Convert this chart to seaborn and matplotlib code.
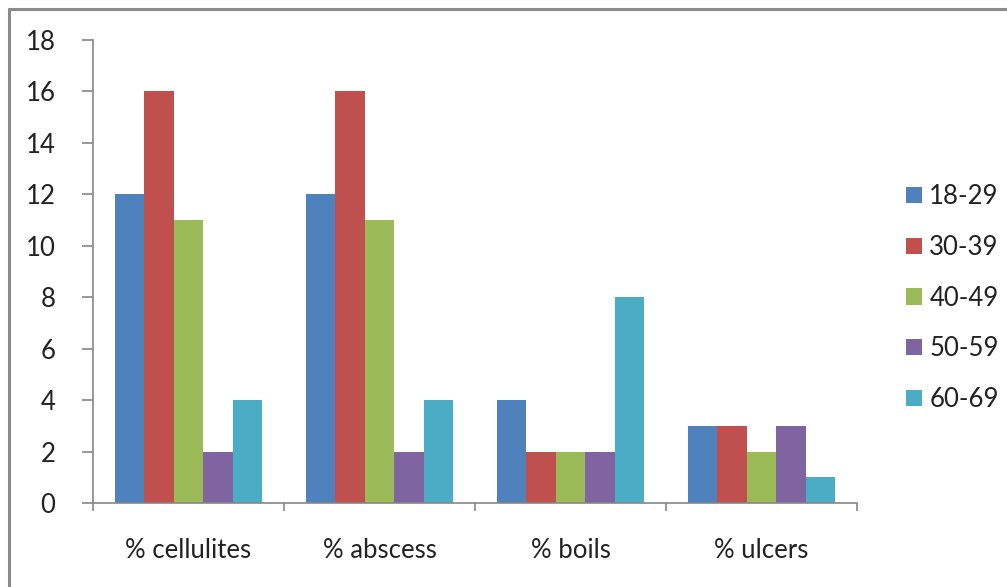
import matplotlib
matplotlib.use("Agg")
import matplotlib.pyplot as plt
from matplotlib.lines import Line2D
from matplotlib.patches import Patch
import seaborn as sns
import pandas as pd

# Infection types by age group (%)
categories = ["% cellulites", "% abscess", "% boils", "% ulcers"]
age_groups = ["18-29", "30-39", "40-49", "50-59", "60-69"]
values_18_29 = [12, 12, 4, 3]
values_30_39 = [16, 16, 2, 3]
values_40_49 = [11, 11, 2, 2]
values_50_59 = [2, 2, 2, 3]
values_60_69 = [4, 4, 8, 1]
colors = ["#4F81BD", "#C0504D", "#9BBB59", "#8064A2", "#4BACC6"]

series = [values_18_29, values_30_39, values_40_49, values_50_59, values_60_69]
rows = []
for grp, vals in zip(age_groups, series):
    for cat, v in zip(categories, vals):
        rows.append({"category": cat, "age": grp, "value": v})
df = pd.DataFrame(rows)

sns.set_theme(style="white")
plt.rcParams["font.family"] = ["Lato", "DejaVu Sans"]

fig = plt.figure(figsize=(10.07, 5.87), dpi=100)
ax = fig.add_axes([93 / 1007, 1 - 503 / 587, (857 - 93) / 1007, (503 - 40) / 587])

sns.barplot(data=df, x="category", y="value", hue="age", order=categories,
            hue_order=age_groups, palette=colors, width=0.772, saturation=1,
            linewidth=0, ax=ax, legend=False)

axis_color = "#868686"
ax.set_ylim(0, 18)
ax.set_xlim(-0.5, len(categories) - 0.5)
ax.set_yticks(range(0, 19, 2))
ax.set_xlabel("")
ax.set_ylabel("")
for side in ["top", "right"]:
    ax.spines[side].set_visible(False)
for side in ["left", "bottom"]:
    ax.spines[side].set_color(axis_color)
    ax.spines[side].set_linewidth(1.2)

ax.tick_params(axis="y", which="major", direction="out", length=8, width=1.2,
               color=axis_color, pad=19, labelsize=18.5, labelcolor="#222222", left=True)
ax.tick_params(axis="x", which="major", length=0, pad=25, labelsize=18.5,
               labelcolor="#222222")
ax.set_xticks([i + 0.5 for i in range(-1, len(categories))], minor=True)
ax.tick_params(axis="x", which="minor", direction="out", length=6, width=1.2,
               color=axis_color, bottom=True)

handles = [Patch(facecolor=c, edgecolor="none", label=g) for c, g in zip(colors, age_groups)]
fig.legend(handles=handles, loc="center left", bbox_to_anchor=(883 / 1007, 1 - 298 / 587),
           frameon=False, fontsize=18.5, labelspacing=1.0, handlelength=0.6,
           handleheight=0.6, handletextpad=0.3, labelcolor="#222222")

# Outer chart border (top and left edges visible)
border = dict(color="#8a8a8a", linewidth=2.2, transform=fig.transFigure)
fig.add_artist(Line2D([9 / 1007, 1.0], [1 - 9 / 587, 1 - 9 / 587], **border))
fig.add_artist(Line2D([9 / 1007, 9 / 1007], [0.0, 1 - 9 / 587], **border))

fig.savefig("out.png", dpi=100)
